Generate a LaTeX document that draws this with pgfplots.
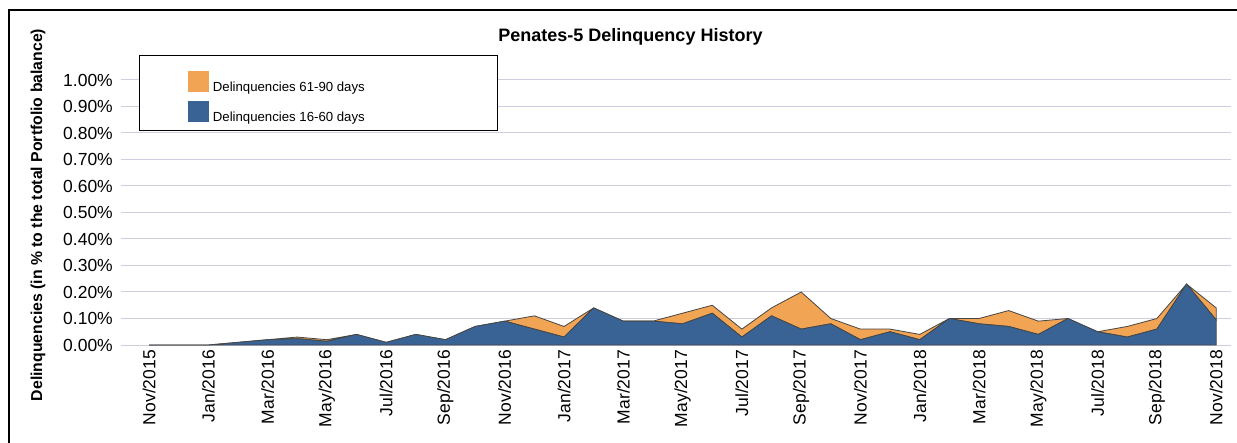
\documentclass[border=0pt]{standalone}
\usepackage{pgfplots}
\pgfplotsset{compat=1.18}
\usepackage{fontspec}
\setmainfont{Liberation Sans}
\definecolor{ordel}{RGB}{240,164,84}
\definecolor{bldel}{RGB}{57,99,148}
\definecolor{gridc}{RGB}{206,206,224}
\definecolor{edgec}{RGB}{70,70,70}
\begin{document}
\begin{tikzpicture}
\useasboundingbox (0,0) rectangle (1237bp,443bp);
\draw[line width=1.5bp] (9bp,0) -- (9bp,433bp) -- (1237bp,433bp);
\begin{axis}[
  at={(121bp,98bp)}, anchor=south west,
  scale only axis, width=1110bp, height=265bp,
  xmin=-0.945, xmax=36.5, ymin=0, ymax=1,
  stack plots=y,
  axis line style={draw=none},
  major tick length=0pt,
  ymajorgrids, major grid style={gridc, line width=1bp},
  ytick={0,0.1,0.2,0.3,0.4,0.5,0.6,0.7,0.8,0.9,1.0},
  yticklabel={\pgfmathprintnumber[fixed,fixed zerofill,precision=2]{\tick}\%},
  /pgf/number format/assume math mode=true,
  yticklabel style={font=\fontsize{17.5bp}{21bp}\selectfont, anchor=east, inner sep=0pt, xshift=-8bp},
  xtick={0,2,...,36},
  xticklabels={Nov/2015,Jan/2016,Mar/2016,May/2016,Jul/2016,Sep/2016,Nov/2016,Jan/2017,Mar/2017,May/2017,Jul/2017,Sep/2017,Nov/2017,Jan/2018,Mar/2018,May/2018,Jul/2018,Sep/2018,Nov/2018},
  xticklabel style={font=\fontsize{17.5bp}{21bp}\selectfont, yshift=-5bp, rotate=90, anchor=east, inner sep=0pt},
  clip=false,
]
\addplot[fill=bldel, draw=edgec, line width=0.8bp] coordinates {
(0,0)(1,0)(2,0)(3,0.01)(4,0.02)(5,0.024)(6,0.014)(7,0.04)(8,0.01)(9,0.04)(10,0.02)(11,0.07)(12,0.09)(13,0.06)(14,0.03)(15,0.14)(16,0.09)(17,0.09)(18,0.08)(19,0.12)(20,0.03)(21,0.11)(22,0.06)(23,0.08)(24,0.02)(25,0.05)(26,0.02)(27,0.10)(28,0.08)(29,0.07)(30,0.04)(31,0.10)(32,0.05)(33,0.03)(34,0.06)(35,0.23)(36,0.095)
} \closedcycle;
\addplot[fill=ordel, draw=edgec, line width=0.8bp] coordinates {
(0,0)(1,0)(2,0)(3,0)(4,0)(5,0.006)(6,0.006)(7,0)(8,0)(9,0)(10,0)(11,0)(12,0)(13,0.05)(14,0.04)(15,0)(16,0)(17,0)(18,0.04)(19,0.03)(20,0.03)(21,0.03)(22,0.14)(23,0.02)(24,0.04)(25,0.01)(26,0.02)(27,0)(28,0.02)(29,0.06)(30,0.05)(31,0)(32,0)(33,0.04)(34,0.04)(35,0)(36,0.045)
} \closedcycle;
\end{axis}
\node[font=\bfseries\fontsize{18bp}{21bp}\selectfont] at (630.5bp,406bp) {Penates-5 Delinquency History};
\node[rotate=90, font=\bfseries\fontsize{15.8bp}{19bp}\selectfont] at (38bp,228bp) {Delinquencies (in \% to the total Portfolio balance)};
\draw[fill=white, line width=1bp] (139.7bp,312bp) rectangle (497bp,387.3bp);
\fill[ordel] (188bp,351bp) rectangle (209bp,372bp);
\fill[bldel] (188bp,321bp) rectangle (209bp,342bp);
\node[anchor=base west, inner sep=0pt, font=\fontsize{13.2bp}{15bp}\selectfont] at (212.7bp,351.5bp) {Delinquencies 61-90 days};
\node[anchor=base west, inner sep=0pt, font=\fontsize{13.2bp}{15bp}\selectfont] at (212.7bp,321.5bp) {Delinquencies 16-60 days};
\end{tikzpicture}
\end{document}
